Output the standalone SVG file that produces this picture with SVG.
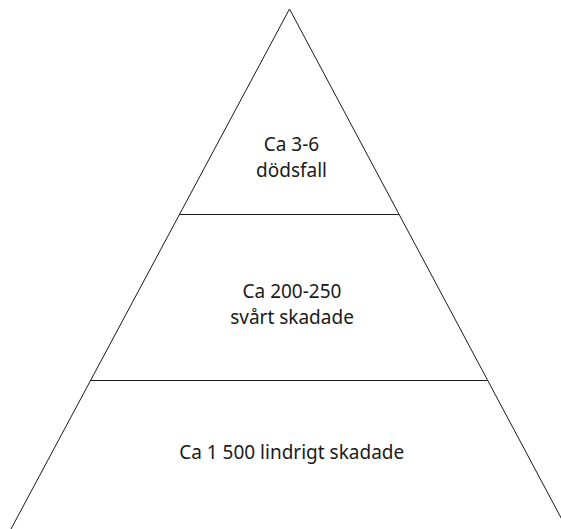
<svg xmlns="http://www.w3.org/2000/svg" width="561" height="529" viewBox="0 0 561 529">
  <style>
    .edge { fill: none; stroke: #1a1a1a; stroke-width: 1; }
    .label { font-family: "Noto Sans", Lato, sans-serif; font-size: 19px; fill: #1a1a1a; text-anchor: middle; }
  </style>
  <rect width="561" height="529" fill="#ffffff"/>
  <g id="connectors">
    <!-- pyramid outline -->
    <polyline class="edge" points="11,529 289.5,9 567,529"/>
    <!-- tier dividers -->
    <line class="edge" x1="179.8" y1="214.5" x2="398.8" y2="214.5"/>
    <line class="edge" x1="91" y1="380.5" x2="487.5" y2="380.5"/>
  </g>
  <g id="tier-top">
    <text class="label" x="291.5" y="150.5">Ca 3-6</text>
    <text class="label" x="291.5" y="176.5">dödsfall</text>
  </g>
  <g id="tier-middle">
    <text class="label" x="292" y="297.5">Ca 200-250</text>
    <text class="label" x="292" y="323.5">svårt skadade</text>
  </g>
  <g id="tier-bottom">
    <text class="label" x="291.7" y="458.5">Ca 1 500 lindrigt skadade</text>
  </g>
</svg>
